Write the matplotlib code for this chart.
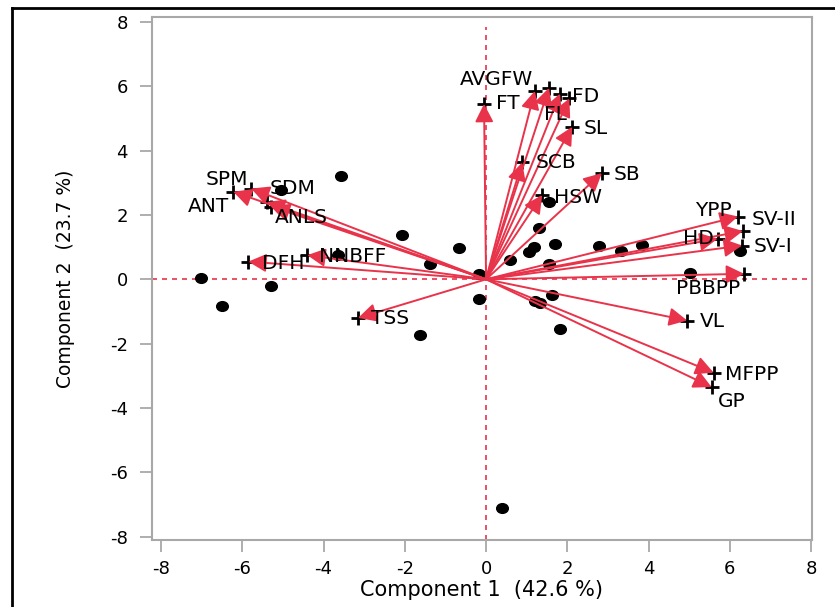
import matplotlib
matplotlib.use("Agg")
import matplotlib.pyplot as plt
from matplotlib.lines import Line2D
from matplotlib.markers import MarkerStyle
from matplotlib.transforms import Affine2D

plt.rcParams['font.family'] = ['DejaVu Sans']
plt.rcParams['axes.unicode_minus'] = False

# Observation scores (PC1, PC2)
score_x = [-7.02, -6.49, -5.28, -5.04, -3.56, -3.65, -2.06, -1.38, -1.63, -0.67,
           -0.17, -0.17, 0.40, 0.59, 1.06, 1.19, 1.30, 1.55, 1.70, 1.55,
           1.63, 1.20, 1.33, 1.83, 2.79, 3.31, 3.83, 5.01, 6.25]
score_y = [0.05, -0.82, -0.20, 2.78, 3.21, 0.77, 1.38, 0.49, -1.72, 0.98,
           0.18, -0.60, -7.10, 0.60, 0.86, 1.01, 1.58, 2.41, 1.10, 0.46,
           -0.48, -0.68, -0.73, -1.53, 1.04, 0.89, 1.07, 0.21, 0.89]

# Variable loadings (scaled)
var_names = ['FT', 'AVGFW', '', 'FD', 'FL', 'SL', 'SCB', 'HSW', 'SB',
             'YPP', 'SV-II', 'HD', 'SV-I', 'PBBPP', 'VL', 'MFPP', 'GP',
             'SPM', 'ANT', 'SDM', 'ANLS', 'DFH', 'NNBFF', 'TSS']
var_x = [-0.05, 1.20, 1.55, 1.82, 2.05, 2.12, 0.89, 1.38, 2.85,
         6.20, 6.32, 5.70, 6.30, 6.35, 4.95, 5.60, 5.55,
         -5.78, -6.22, -5.40, -5.28, -5.85, -4.40, -3.15]
var_y = [5.45, 5.85, 5.95, 5.77, 5.62, 4.74, 3.63, 2.62, 3.30,
         1.95, 1.50, 1.26, 1.05, 0.17, -1.28, -2.90, -3.35,
         2.82, 2.72, 2.40, 2.26, 0.55, 0.75, -1.20]

# label placement (offset pixels, ha)
label_pos = {
    'FT': (12, 0, 'left'), 'AVGFW': (-2, 12, 'right'), 'FD': (12, -3, 'left'),
    'FL': (-3, -16, 'right'), 'SL': (11, -2, 'left'), 'SCB': (13, 0, 'left'),
    'HSW': (12, -3, 'left'), 'SB': (12, -1, 'left'), 'YPP': (-6, 6, 'right'),
    'SV-II': (9, 12, 'left'), 'HD': (-4, 0, 'right'), 'SV-I': (12, -1, 'left'),
    'PBBPP': (-4, -15, 'right'), 'VL': (13, -1, 'left'), 'MFPP': (11, -2, 'left'),
    'GP': (6, -14, 'left'), 'SPM': (-3, 9, 'right'), 'ANT': (-4, -15, 'right'),
    'SDM': (3, 14, 'left'), 'ANLS': (3, -11, 'left'), 'DFH': (14, -2, 'left'),
    'NNBFF': (12, -1, 'left'), 'TSS': (13, -1, 'left'),
}

red = '#E8334A'
grey = '#A8A8A8'

fig = plt.figure(figsize=(8.35, 6.07), dpi=100)
ax = fig.add_axes([152/835, 1-540/607, (812-152)/835, (540-17)/607])

ax.set_xlim(-8.22, 8.02)
ax.set_ylim(-8.1, 8.15)

ax.axhline(0, color=red, ls=(0, (3, 3)), lw=1.2, zorder=1)
ax.plot([0, 0], [-8.1, 7.85], color=red, ls=(0, (3, 3)), lw=1.2, zorder=1)

dot = MarkerStyle('o', transform=Affine2D().scale(1.2, 1.0))
ax.plot(score_x, score_y, linestyle='none', marker=dot, color='black', ms=7, zorder=2)

for nm, x, y in zip(var_names, var_x, var_y):
    ax.plot([x], [y], marker='+', color='black', ms=10, mew=2, zorder=3)
    ax.annotate('', xy=(x, y), xytext=(0, 0),
                arrowprops=dict(arrowstyle='-|>,head_length=0.55,head_width=0.28',
                                color=red, lw=1.4,
                                mutation_scale=20, shrinkA=0, shrinkB=0),
                zorder=4)
    if nm:
        dx, dy, ha = label_pos[nm]
        ax.annotate(nm, xy=(x, y), xytext=(dx, dy), textcoords='offset pixels',
                    ha=ha, va='center', fontsize=14.5, color='black', zorder=5)

ticks = [-8, -6, -4, -2, 0, 2, 4, 6, 8]
ax.set_xticks(ticks)
ax.set_yticks(ticks)
ax.tick_params(direction='out', length=8.5, width=1.3, color=grey, labelsize=13, pad=6)
ax.tick_params(axis='y', pad=9)
for sp in ax.spines.values():
    sp.set_color(grey)
    sp.set_linewidth(1.5)

ax.set_xlabel('Component 1  (42.6 %)', fontsize=15, labelpad=1)
ax.set_ylabel('Component 2  (23.7 %)', fontsize=13.5, labelpad=25)

# outer frame
fig.add_artist(Line2D([12/835, 12/835], [0, 1-8/607], color='black', lw=2, transform=fig.transFigure))
fig.add_artist(Line2D([12/835, 1], [1-8/607, 1-8/607], color='black', lw=2, transform=fig.transFigure))

fig.savefig('out.png', dpi=100)
